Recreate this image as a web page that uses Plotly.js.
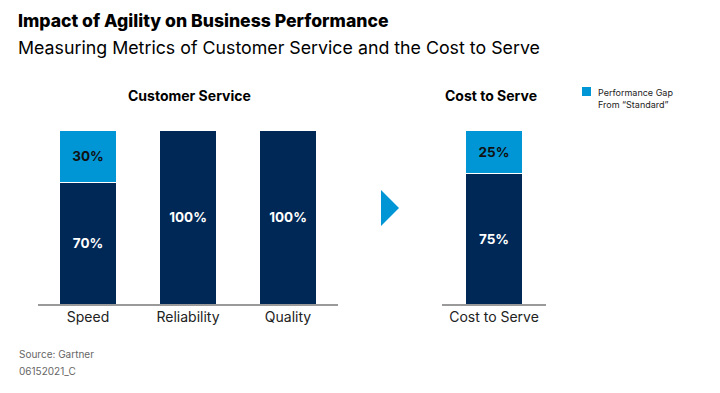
<!DOCTYPE html>
<html>
<head>
<meta charset="utf-8">
<script src="https://cdn.plot.ly/plotly-3.0.1.min.js"></script>
<style>html,body{margin:0;padding:0;background:#fff;}#chart{width:720px;height:393px;}</style>
</head>
<body>
<div id="chart"></div>
<script>
// Data
const serviceCategories = ["Speed", "Reliability", "Quality"];
const serviceStandard = [70, 100, 100];
const serviceGap = [30, null, null];
const costCategories = ["Cost to Serve"];
const costStandard = [75];
const costGap = [25];
const gapLegendLabel = "Performance Gap<br>From “Standard”";

const NAVY = "#002856";
const BLUE = "#0096D6";
const FONT = "Inter, 'Open Sans', sans-serif";
const pct = v => (v == null ? "" : v + "%");

const traces = [
  {
    type: "bar", x: serviceCategories, y: serviceStandard, name: "Standard",
    text: serviceStandard.map(pct), textposition: "inside", insidetextanchor: "middle",
    textfont: {color: "#ffffff", size: 13.5, family: FONT, weight: 700},
    marker: {color: NAVY, line: {color: "#ffffff", width: 1}},
    width: 0.57, showlegend: false, xaxis: "x", yaxis: "y", hoverinfo: "skip"
  },
  {
    type: "bar", x: serviceCategories, y: serviceGap, name: "Performance Gap From “Standard”",
    text: serviceGap.map(pct), textposition: "inside", insidetextanchor: "middle",
    textfont: {color: "#111111", size: 13.5, family: FONT, weight: 700},
    marker: {color: BLUE, line: {color: "#ffffff", width: 1}},
    width: 0.57, showlegend: false, xaxis: "x", yaxis: "y", hoverinfo: "skip"
  },
  {
    type: "bar", x: costCategories, y: costStandard, name: "Standard",
    text: costStandard.map(pct), textposition: "inside", insidetextanchor: "middle",
    textfont: {color: "#ffffff", size: 13.5, family: FONT, weight: 700},
    marker: {color: NAVY, line: {color: "#ffffff", width: 1}},
    width: 0.55, showlegend: false, xaxis: "x2", yaxis: "y2", hoverinfo: "skip"
  },
  {
    type: "bar", x: costCategories, y: costGap, name: "Performance Gap From “Standard”",
    text: costGap.map(pct), textposition: "inside", insidetextanchor: "middle",
    textfont: {color: "#111111", size: 13.5, family: FONT, weight: 700},
    marker: {color: BLUE, line: {color: "#ffffff", width: 1}},
    width: 0.55, showlegend: false, xaxis: "x2", yaxis: "y2", hoverinfo: "skip"
  }
];

const yTop = 1 - 130 / 393, yBot = 1 - 304 / 393;
const xAxisCommon = {
  showline: true, linecolor: "#9a9a9a", linewidth: 1.5, ticks: "", showgrid: false,
  zeroline: false, tickfont: {size: 14, color: "#222222", family: FONT}, fixedrange: true
};
const yAxisCommon = {range: [0, 100], visible: false, domain: [yBot, yTop], fixedrange: true};
const px = v => v / 720;
const py = v => 1 - v / 393;

const layout = {
  width: 720, height: 393,
  margin: {l: 0, r: 0, t: 0, b: 0},
  paper_bgcolor: "#ffffff", plot_bgcolor: "#ffffff",
  barmode: "stack",
  font: {family: FONT, color: "#222222"},
  xaxis: Object.assign({domain: [px(38), px(338)], anchor: "y"}, xAxisCommon),
  yaxis: Object.assign({anchor: "x"}, yAxisCommon),
  xaxis2: Object.assign({domain: [px(442), px(546)], anchor: "y2"}, xAxisCommon),
  yaxis2: Object.assign({anchor: "x2"}, yAxisCommon),
  showlegend: false,
  annotations: [
    {text: "Impact of Agility on Business Performance", xref: "paper", yref: "paper",
     x: px(16), y: py(20), xanchor: "left", yanchor: "middle", showarrow: false,
     font: {size: 17.6, color: "#000000", family: FONT, weight: 800}},
    {text: "Measuring Metrics of Customer Service and the Cost to Serve", xref: "paper", yref: "paper",
     x: px(16), y: py(47), xanchor: "left", yanchor: "middle", showarrow: false,
     font: {size: 17.8, color: "#000000", family: FONT, weight: 400}},
    {text: "Customer Service", xref: "paper", yref: "paper",
     x: px(189), y: py(95), xanchor: "center", yanchor: "middle", showarrow: false,
     font: {size: 14, color: "#000000", family: FONT, weight: 700}},
    {text: "Cost to Serve", xref: "paper", yref: "paper",
     x: px(491), y: py(95), xanchor: "center", yanchor: "middle", showarrow: false,
     font: {size: 14, color: "#000000", family: FONT, weight: 700}},
    {text: gapLegendLabel, xref: "paper", yref: "paper",
     x: px(596), y: py(85), xanchor: "left", yanchor: "top", align: "left", showarrow: false,
     font: {size: 9, color: "#222222", family: FONT}},
    {text: "Source: Gartner", xref: "paper", yref: "paper",
     x: px(17), y: py(354), xanchor: "left", yanchor: "middle", showarrow: false,
     font: {size: 10, color: "#666666", family: FONT}},
    {text: "06152021_C", xref: "paper", yref: "paper",
     x: px(17), y: py(371), xanchor: "left", yanchor: "middle", showarrow: false,
     font: {size: 10, color: "#666666", family: FONT}}
  ],
  shapes: [
    {type: "rect", xref: "paper", yref: "paper",
     x0: px(582), x1: px(591), y0: py(96), y1: py(87),
     fillcolor: BLUE, line: {width: 0}},
    {type: "path", xref: "paper", yref: "paper",
     path: "M " + px(381) + "," + py(190) + " L " + px(399) + "," + py(208) +
           " L " + px(381) + "," + py(226) + " Z",
     fillcolor: BLUE, line: {width: 0}}
  ]
};

Plotly.newPlot("chart", traces, layout, {displayModeBar: false, staticPlot: true});
</script>
</body>
</html>
